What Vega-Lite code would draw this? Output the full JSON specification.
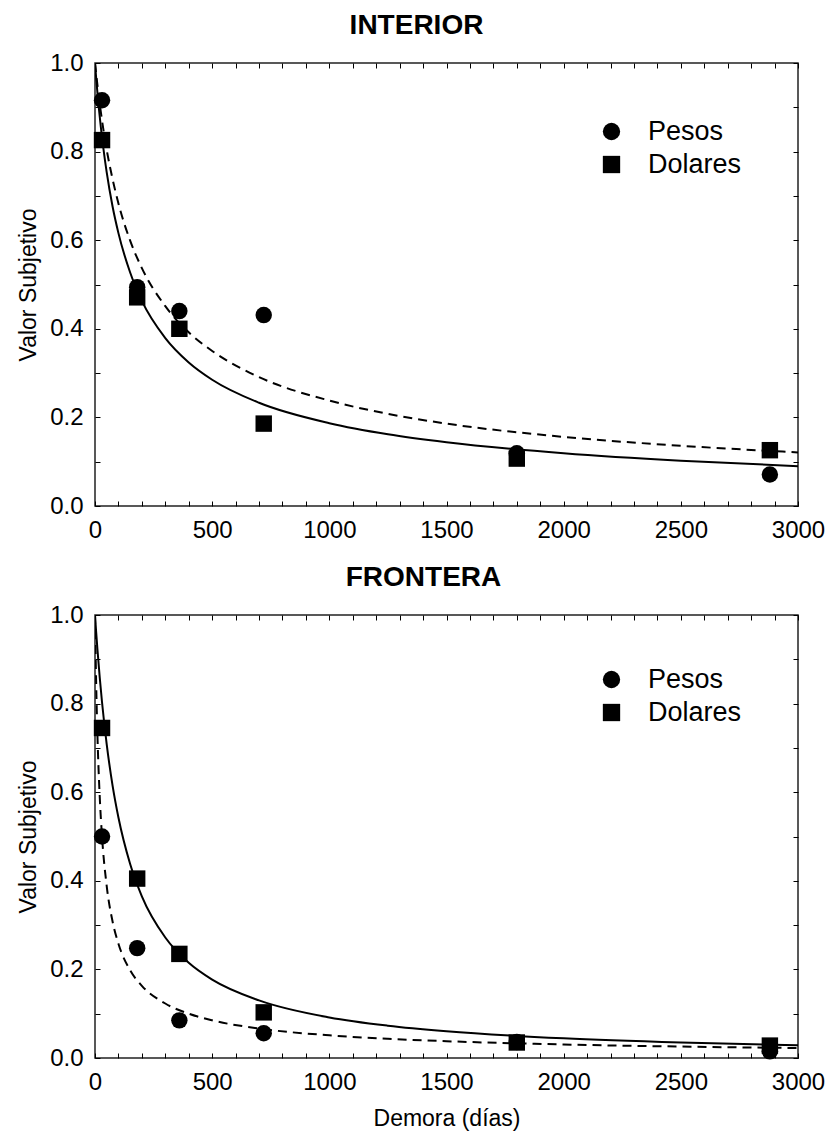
{
  "$schema": "https://vega.github.io/schema/vega-lite/v6.json",
  "padding": {"left": 16, "top": 11, "right": 10, "bottom": 8},
  "background": "white",
  "config": {
    "font": "Liberation Sans",
    "view": {"stroke": "#222", "strokeWidth": 1.5},
    "axis": {
      "domain": false, "grid": false, "ticks": true, "tickColor": "black", "tickWidth": 1, "tickSize": -5,
      "labelFont": "Liberation Sans", "labelFontSize": 24, "labelColor": "black",
      "titleFont": "Liberation Sans", "titleFontSize": 23, "titleFontWeight": "normal", "titleColor": "black"
    },
    "title": {"font": "Liberation Sans", "fontSize": 28, "fontWeight": "bold", "color": "black", "anchor": "middle"},
    "legend": {"labelFont": "Liberation Sans", "labelFontSize": 27, "labelColor": "black", "padding": 0, "symbolSize": 300, "labelOffset": 23, "rowPadding": 5, "symbolFillColor": "black", "symbolStrokeColor": "black", "symbolStrokeWidth": 0}
  },
  "datasets": {
    "points": [
      {"panel": "INTERIOR", "moneda": "Pesos", "d": 30, "v": 0.916},
      {"panel": "INTERIOR", "moneda": "Pesos", "d": 180, "v": 0.494},
      {"panel": "INTERIOR", "moneda": "Pesos", "d": 360, "v": 0.44},
      {"panel": "INTERIOR", "moneda": "Pesos", "d": 720, "v": 0.431},
      {"panel": "INTERIOR", "moneda": "Pesos", "d": 1800, "v": 0.119},
      {"panel": "INTERIOR", "moneda": "Pesos", "d": 2880, "v": 0.071},
      {"panel": "INTERIOR", "moneda": "Dolares", "d": 30, "v": 0.826},
      {"panel": "INTERIOR", "moneda": "Dolares", "d": 180, "v": 0.471},
      {"panel": "INTERIOR", "moneda": "Dolares", "d": 360, "v": 0.40},
      {"panel": "INTERIOR", "moneda": "Dolares", "d": 720, "v": 0.186},
      {"panel": "INTERIOR", "moneda": "Dolares", "d": 1800, "v": 0.107},
      {"panel": "INTERIOR", "moneda": "Dolares", "d": 2880, "v": 0.126},
      {"panel": "FRONTERA", "moneda": "Pesos", "d": 30, "v": 0.50},
      {"panel": "FRONTERA", "moneda": "Pesos", "d": 180, "v": 0.248},
      {"panel": "FRONTERA", "moneda": "Pesos", "d": 360, "v": 0.085},
      {"panel": "FRONTERA", "moneda": "Pesos", "d": 720, "v": 0.056},
      {"panel": "FRONTERA", "moneda": "Pesos", "d": 1800, "v": 0.036},
      {"panel": "FRONTERA", "moneda": "Pesos", "d": 2880, "v": 0.015},
      {"panel": "FRONTERA", "moneda": "Dolares", "d": 30, "v": 0.745},
      {"panel": "FRONTERA", "moneda": "Dolares", "d": 180, "v": 0.405},
      {"panel": "FRONTERA", "moneda": "Dolares", "d": 360, "v": 0.235},
      {"panel": "FRONTERA", "moneda": "Dolares", "d": 720, "v": 0.103},
      {"panel": "FRONTERA", "moneda": "Dolares", "d": 1800, "v": 0.035},
      {"panel": "FRONTERA", "moneda": "Dolares", "d": 2880, "v": 0.028}
    ],
    "curves": [
      {"panel": "INTERIOR", "moneda": "Dolares", "d": 0, "v": 1},
      {"panel": "INTERIOR", "moneda": "Dolares", "d": 5, "v": 0.966},
      {"panel": "INTERIOR", "moneda": "Dolares", "d": 10, "v": 0.935},
      {"panel": "INTERIOR", "moneda": "Dolares", "d": 25, "v": 0.855},
      {"panel": "INTERIOR", "moneda": "Dolares", "d": 50, "v": 0.753},
      {"panel": "INTERIOR", "moneda": "Dolares", "d": 75, "v": 0.676},
      {"panel": "INTERIOR", "moneda": "Dolares", "d": 100, "v": 0.616},
      {"panel": "INTERIOR", "moneda": "Dolares", "d": 150, "v": 0.527},
      {"panel": "INTERIOR", "moneda": "Dolares", "d": 200, "v": 0.463},
      {"panel": "INTERIOR", "moneda": "Dolares", "d": 300, "v": 0.379},
      {"panel": "INTERIOR", "moneda": "Dolares", "d": 400, "v": 0.324},
      {"panel": "INTERIOR", "moneda": "Dolares", "d": 500, "v": 0.285},
      {"panel": "INTERIOR", "moneda": "Dolares", "d": 700, "v": 0.233},
      {"panel": "INTERIOR", "moneda": "Dolares", "d": 1000, "v": 0.187},
      {"panel": "INTERIOR", "moneda": "Dolares", "d": 1250, "v": 0.162},
      {"panel": "INTERIOR", "moneda": "Dolares", "d": 1500, "v": 0.144},
      {"panel": "INTERIOR", "moneda": "Dolares", "d": 2000, "v": 0.119},
      {"panel": "INTERIOR", "moneda": "Dolares", "d": 2500, "v": 0.102},
      {"panel": "INTERIOR", "moneda": "Dolares", "d": 3000, "v": 0.090},
      {"panel": "INTERIOR", "moneda": "Pesos", "d": 0, "v": 1},
      {"panel": "INTERIOR", "moneda": "Pesos", "d": 10, "v": 0.952},
      {"panel": "INTERIOR", "moneda": "Pesos", "d": 25, "v": 0.889},
      {"panel": "INTERIOR", "moneda": "Pesos", "d": 50, "v": 0.804},
      {"panel": "INTERIOR", "moneda": "Pesos", "d": 75, "v": 0.738},
      {"panel": "INTERIOR", "moneda": "Pesos", "d": 100, "v": 0.683},
      {"panel": "INTERIOR", "moneda": "Pesos", "d": 150, "v": 0.599},
      {"panel": "INTERIOR", "moneda": "Pesos", "d": 200, "v": 0.537},
      {"panel": "INTERIOR", "moneda": "Pesos", "d": 300, "v": 0.451},
      {"panel": "INTERIOR", "moneda": "Pesos", "d": 400, "v": 0.392},
      {"panel": "INTERIOR", "moneda": "Pesos", "d": 500, "v": 0.350},
      {"panel": "INTERIOR", "moneda": "Pesos", "d": 700, "v": 0.291},
      {"panel": "INTERIOR", "moneda": "Pesos", "d": 1000, "v": 0.238},
      {"panel": "INTERIOR", "moneda": "Pesos", "d": 1250, "v": 0.208},
      {"panel": "INTERIOR", "moneda": "Pesos", "d": 1500, "v": 0.186},
      {"panel": "INTERIOR", "moneda": "Pesos", "d": 2000, "v": 0.156},
      {"panel": "INTERIOR", "moneda": "Pesos", "d": 2500, "v": 0.136},
      {"panel": "INTERIOR", "moneda": "Pesos", "d": 3000, "v": 0.121},
      {"panel": "FRONTERA", "moneda": "Dolares", "d": 0, "v": 1},
      {"panel": "FRONTERA", "moneda": "Dolares", "d": 5, "v": 0.961},
      {"panel": "FRONTERA", "moneda": "Dolares", "d": 10, "v": 0.925},
      {"panel": "FRONTERA", "moneda": "Dolares", "d": 20, "v": 0.860},
      {"panel": "FRONTERA", "moneda": "Dolares", "d": 30, "v": 0.803},
      {"panel": "FRONTERA", "moneda": "Dolares", "d": 50, "v": 0.708},
      {"panel": "FRONTERA", "moneda": "Dolares", "d": 75, "v": 0.615},
      {"panel": "FRONTERA", "moneda": "Dolares", "d": 100, "v": 0.543},
      {"panel": "FRONTERA", "moneda": "Dolares", "d": 150, "v": 0.438},
      {"panel": "FRONTERA", "moneda": "Dolares", "d": 200, "v": 0.365},
      {"panel": "FRONTERA", "moneda": "Dolares", "d": 300, "v": 0.272},
      {"panel": "FRONTERA", "moneda": "Dolares", "d": 400, "v": 0.215},
      {"panel": "FRONTERA", "moneda": "Dolares", "d": 500, "v": 0.177},
      {"panel": "FRONTERA", "moneda": "Dolares", "d": 700, "v": 0.130},
      {"panel": "FRONTERA", "moneda": "Dolares", "d": 1000, "v": 0.0915},
      {"panel": "FRONTERA", "moneda": "Dolares", "d": 1250, "v": 0.0729},
      {"panel": "FRONTERA", "moneda": "Dolares", "d": 1500, "v": 0.0603},
      {"panel": "FRONTERA", "moneda": "Dolares", "d": 2000, "v": 0.0444},
      {"panel": "FRONTERA", "moneda": "Dolares", "d": 2500, "v": 0.0349},
      {"panel": "FRONTERA", "moneda": "Dolares", "d": 3000, "v": 0.0286},
      {"panel": "FRONTERA", "moneda": "Pesos", "d": 0, "v": 1},
      {"panel": "FRONTERA", "moneda": "Pesos", "d": 2, "v": 0.930},
      {"panel": "FRONTERA", "moneda": "Pesos", "d": 5, "v": 0.845},
      {"panel": "FRONTERA", "moneda": "Pesos", "d": 10, "v": 0.736},
      {"panel": "FRONTERA", "moneda": "Pesos", "d": 20, "v": 0.592},
      {"panel": "FRONTERA", "moneda": "Pesos", "d": 30, "v": 0.500},
      {"panel": "FRONTERA", "moneda": "Pesos", "d": 50, "v": 0.388},
      {"panel": "FRONTERA", "moneda": "Pesos", "d": 75, "v": 0.308},
      {"panel": "FRONTERA", "moneda": "Pesos", "d": 100, "v": 0.258},
      {"panel": "FRONTERA", "moneda": "Pesos", "d": 150, "v": 0.198},
      {"panel": "FRONTERA", "moneda": "Pesos", "d": 200, "v": 0.163},
      {"panel": "FRONTERA", "moneda": "Pesos", "d": 300, "v": 0.123},
      {"panel": "FRONTERA", "moneda": "Pesos", "d": 400, "v": 0.100},
      {"panel": "FRONTERA", "moneda": "Pesos", "d": 500, "v": 0.085},
      {"panel": "FRONTERA", "moneda": "Pesos", "d": 700, "v": 0.0666},
      {"panel": "FRONTERA", "moneda": "Pesos", "d": 1000, "v": 0.0512},
      {"panel": "FRONTERA", "moneda": "Pesos", "d": 1250, "v": 0.0434},
      {"panel": "FRONTERA", "moneda": "Pesos", "d": 1500, "v": 0.0379},
      {"panel": "FRONTERA", "moneda": "Pesos", "d": 2000, "v": 0.0305},
      {"panel": "FRONTERA", "moneda": "Pesos", "d": 2500, "v": 0.0258},
      {"panel": "FRONTERA", "moneda": "Pesos", "d": 3000, "v": 0.0225}
    ]
  },
  "vconcat": [
    {
      "title": {"text": "INTERIOR", "offset": 11, "dx": -30},
      "width": 703, "height": 443,
      "resolve": {"axis": {"x": "independent", "y": "independent"}},
      "layer": [
        {
          "data": {"name": "curves"},
          "transform": [{"filter": "datum.panel == 'INTERIOR' && datum.moneda == 'Dolares'"}],
          "mark": {"type": "line", "color": "black", "strokeWidth": 2, "interpolate": "monotone", "clip": true},
          "encoding": {
            "x": {"field": "d", "type": "quantitative", "scale": {"domain": [0, 3000], "nice": false},
              "axis": {"orient": "bottom", "title": null, "values": [0,100,200,300,400,500,600,700,800,900,1000,1100,1200,1300,1400,1500,1600,1700,1800,1900,2000,2100,2200,2300,2400,2500,2600,2700,2800,2900,3000], "labelExpr": "datum.value % 500 == 0 ? datum.label : ''", "format": "d", "labelPadding": 17, "labelFlush": false}},
            "y": {"field": "v", "type": "quantitative", "scale": {"domain": [0, 1], "nice": false},
              "axis": {"orient": "left", "title": "Valor Subjetivo", "values": [0,0.1,0.2,0.3,0.4,0.5,0.6,0.7,0.8,0.9,1], "format": ".1f", "labelExpr": "round(datum.value*10) % 2 == 0 ? datum.label : ''", "labelPadding": 17, "titlePadding": 9, "labelFlush": false}}
          }
        },
        {
          "data": {"name": "curves"},
          "transform": [{"filter": "datum.panel == 'INTERIOR' && datum.moneda == 'Pesos'"}],
          "mark": {"type": "line", "color": "black", "strokeWidth": 2, "strokeDash": [9, 6], "interpolate": "monotone", "clip": true},
          "encoding": {
            "x": {"field": "d", "type": "quantitative", "axis": null},
            "y": {"field": "v", "type": "quantitative", "axis": null}
          }
        },
        {
          "data": {"name": "points"},
          "transform": [{"filter": "datum.panel == 'INTERIOR'"}],
          "mark": {"type": "point", "filled": true, "color": "black", "opacity": 1, "size": 270, "strokeWidth": 0},
          "encoding": {
            "x": {"field": "d", "type": "quantitative", "axis": {"orient": "top", "title": null, "labels": false, "values": [0,100,200,300,400,500,600,700,800,900,1000,1100,1200,1300,1400,1500,1600,1700,1800,1900,2000,2100,2200,2300,2400,2500,2600,2700,2800,2900,3000]}},
            "y": {"field": "v", "type": "quantitative", "axis": {"orient": "right", "title": null, "labels": false, "values": [0,0.1,0.2,0.3,0.4,0.5,0.6,0.7,0.8,0.9,1]}},
            "shape": {"field": "moneda", "type": "nominal", "scale": {"domain": ["Pesos", "Dolares"], "range": ["circle", "square"]},
              "legend": {"title": null, "orient": "none", "legendX": 503, "legendY": 55}}
          }
        }
      ]
    },
    {
      "title": {"text": "FRONTERA", "offset": 11, "dx": -23},
      "width": 703, "height": 443,
      "resolve": {"axis": {"x": "independent", "y": "independent"}},
      "layer": [
        {
          "data": {"name": "curves"},
          "transform": [{"filter": "datum.panel == 'FRONTERA' && datum.moneda == 'Dolares'"}],
          "mark": {"type": "line", "color": "black", "strokeWidth": 2, "interpolate": "monotone", "clip": true},
          "encoding": {
            "x": {"field": "d", "type": "quantitative", "scale": {"domain": [0, 3000], "nice": false},
              "axis": {"orient": "bottom", "title": "Demora (días)", "titlePadding": 13, "values": [0,100,200,300,400,500,600,700,800,900,1000,1100,1200,1300,1400,1500,1600,1700,1800,1900,2000,2100,2200,2300,2400,2500,2600,2700,2800,2900,3000], "labelExpr": "datum.value % 500 == 0 ? datum.label : ''", "format": "d", "labelPadding": 17, "labelFlush": false}},
            "y": {"field": "v", "type": "quantitative", "scale": {"domain": [0, 1], "nice": false},
              "axis": {"orient": "left", "title": "Valor Subjetivo", "values": [0,0.1,0.2,0.3,0.4,0.5,0.6,0.7,0.8,0.9,1], "format": ".1f", "labelExpr": "round(datum.value*10) % 2 == 0 ? datum.label : ''", "labelPadding": 17, "titlePadding": 9, "labelFlush": false}}
          }
        },
        {
          "data": {"name": "curves"},
          "transform": [{"filter": "datum.panel == 'FRONTERA' && datum.moneda == 'Pesos'"}],
          "mark": {"type": "line", "color": "black", "strokeWidth": 2, "strokeDash": [9, 6], "interpolate": "monotone", "clip": true},
          "encoding": {
            "x": {"field": "d", "type": "quantitative", "axis": null},
            "y": {"field": "v", "type": "quantitative", "axis": null}
          }
        },
        {
          "data": {"name": "points"},
          "transform": [{"filter": "datum.panel == 'FRONTERA'"}],
          "mark": {"type": "point", "filled": true, "color": "black", "opacity": 1, "size": 270, "strokeWidth": 0},
          "encoding": {
            "x": {"field": "d", "type": "quantitative", "axis": {"orient": "top", "title": null, "labels": false, "values": [0,100,200,300,400,500,600,700,800,900,1000,1100,1200,1300,1400,1500,1600,1700,1800,1900,2000,2100,2200,2300,2400,2500,2600,2700,2800,2900,3000]}},
            "y": {"field": "v", "type": "quantitative", "axis": {"orient": "right", "title": null, "labels": false, "values": [0,0.1,0.2,0.3,0.4,0.5,0.6,0.7,0.8,0.9,1]}},
            "shape": {"field": "moneda", "type": "nominal", "scale": {"domain": ["Pesos", "Dolares"], "range": ["circle", "square"]},
              "legend": {"title": null, "orient": "none", "legendX": 503, "legendY": 51}}
          }
        }
      ]
    }
  ],
  "spacing": 20,
  "resolve": {"scale": {"shape": "independent"}, "legend": {"shape": "independent"}}
}
